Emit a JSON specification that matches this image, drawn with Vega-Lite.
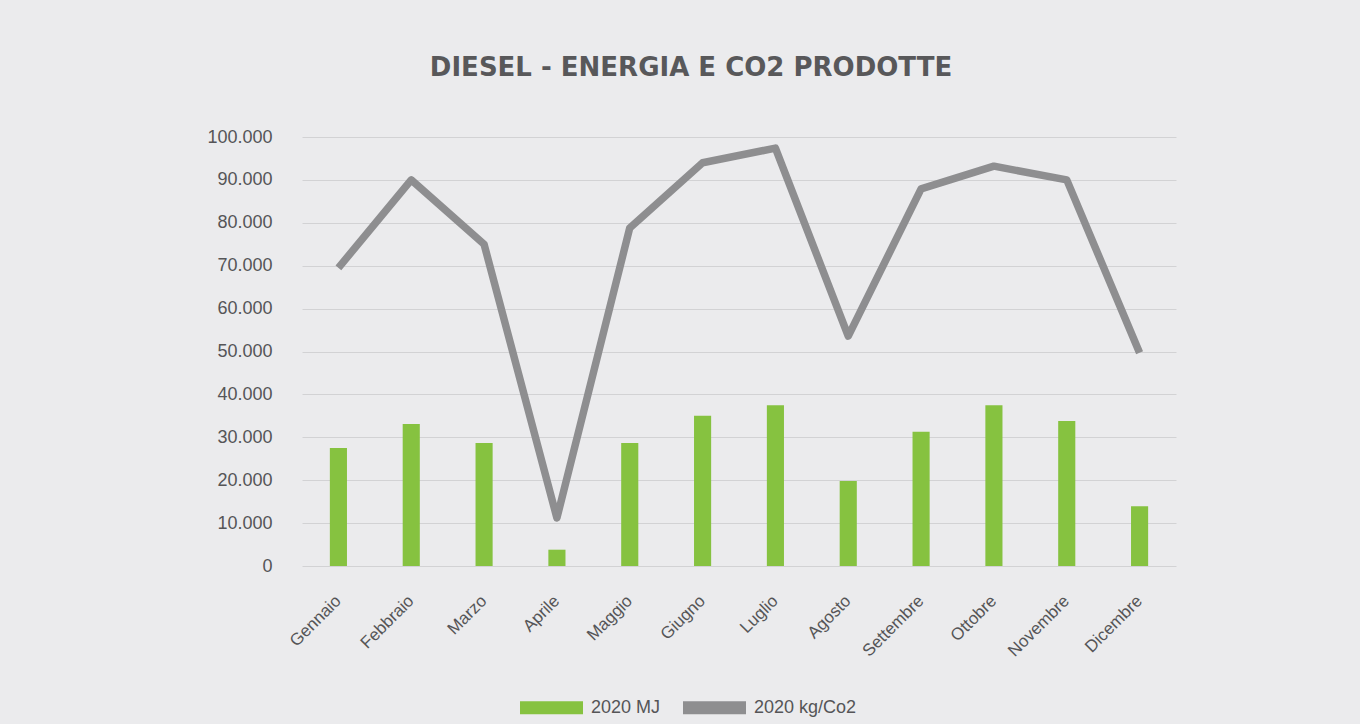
{
  "$schema": "https://vega.github.io/schema/vega-lite/v6.json",
  "width": 874,
  "height": 429,
  "autosize": "none",
  "padding": {"left": 302, "top": 137, "right": 184, "bottom": 158},
  "background": "#ebebed",
  "config": {
    "locale": {"number": {"decimal": ",", "thousands": ".", "grouping": [3], "currency": ["€", ""]}},
    "view": {"stroke": null},
    "font": "Liberation Sans"
  },
  "title": {
    "text": "DIESEL - ENERGIA E CO2 PRODOTTE",
    "font": "DejaVu Sans",
    "fontSize": 26,
    "fontWeight": "bold",
    "color": "#58585a",
    "anchor": "middle",
    "dx": -48,
    "offset": 47
  },
  "data": {
    "values": [
      {"mese": "Gennaio", "serie": "2020 MJ", "valore": 27500},
      {"mese": "Febbraio", "serie": "2020 MJ", "valore": 33100},
      {"mese": "Marzo", "serie": "2020 MJ", "valore": 28700},
      {"mese": "Aprile", "serie": "2020 MJ", "valore": 3800},
      {"mese": "Maggio", "serie": "2020 MJ", "valore": 28700},
      {"mese": "Giugno", "serie": "2020 MJ", "valore": 35000},
      {"mese": "Luglio", "serie": "2020 MJ", "valore": 37500},
      {"mese": "Agosto", "serie": "2020 MJ", "valore": 19800},
      {"mese": "Settembre", "serie": "2020 MJ", "valore": 31300},
      {"mese": "Ottobre", "serie": "2020 MJ", "valore": 37500},
      {"mese": "Novembre", "serie": "2020 MJ", "valore": 33800},
      {"mese": "Dicembre", "serie": "2020 MJ", "valore": 13900},
      {"mese": "Gennaio", "serie": "2020 kg/Co2", "valore": 69500},
      {"mese": "Febbraio", "serie": "2020 kg/Co2", "valore": 90000},
      {"mese": "Marzo", "serie": "2020 kg/Co2", "valore": 75000},
      {"mese": "Aprile", "serie": "2020 kg/Co2", "valore": 11200},
      {"mese": "Maggio", "serie": "2020 kg/Co2", "valore": 78800},
      {"mese": "Giugno", "serie": "2020 kg/Co2", "valore": 94000},
      {"mese": "Luglio", "serie": "2020 kg/Co2", "valore": 97400},
      {"mese": "Agosto", "serie": "2020 kg/Co2", "valore": 53600},
      {"mese": "Settembre", "serie": "2020 kg/Co2", "valore": 87900},
      {"mese": "Ottobre", "serie": "2020 kg/Co2", "valore": 93200},
      {"mese": "Novembre", "serie": "2020 kg/Co2", "valore": 90000},
      {"mese": "Dicembre", "serie": "2020 kg/Co2", "valore": 49700}
    ]
  },
  "encoding": {
    "x": {
      "field": "mese",
      "type": "nominal",
      "sort": null,
      "scale": {"paddingInner": 0, "paddingOuter": 0},
      "axis": {
        "title": null,
        "domain": false,
        "ticks": false,
        "grid": false,
        "labelAngle": -45,
        "labelAlign": "right",
        "labelBaseline": "middle",
        "labelPadding": 32,
        "labelFontSize": 17,
        "labelColor": "#555557"
      }
    },
    "y": {
      "field": "valore",
      "type": "quantitative",
      "scale": {"domain": [0, 100000], "nice": false},
      "axis": {
        "title": null,
        "domain": false,
        "ticks": false,
        "values": [0, 10000, 20000, 30000, 40000, 50000, 60000, 70000, 80000, 90000, 100000],
        "format": ",d",
        "labelFontSize": 18,
        "labelColor": "#555557",
        "labelPadding": 30,
        "gridColor": "#d2d2d4",
        "gridWidth": 1
      }
    }
  },
  "layer": [
    {
      "transform": [{"filter": "datum.serie == '2020 MJ'"}],
      "mark": {"type": "bar", "width": {"band": 0.235}},
      "encoding": {
        "color": {
          "field": "serie",
          "type": "nominal",
          "scale": {"domain": ["2020 MJ", "2020 kg/Co2"], "range": ["#86c240", "#8e8e90"]},
          "legend": {
            "title": null,
            "orient": "none",
            "direction": "horizontal",
            "legendX": 218,
            "legendY": 539,
            "symbolType": "M-1,-0.21H1V0.21H-1Z",
            "symbolSize": 3969,
            "symbolStrokeWidth": 0,
            "labelFontSize": 18,
            "labelColor": "#555557",
            "labelOffset": 8,
            "columnPadding": 22
          }
        }
      }
    },
    {
      "transform": [{"filter": "datum.serie == '2020 kg/Co2'"}],
      "mark": {"type": "line", "strokeWidth": 7.5, "color": "#8e8e90", "strokeJoin": "round", "strokeCap": "butt"},
      "encoding": {}
    }
  ]
}
